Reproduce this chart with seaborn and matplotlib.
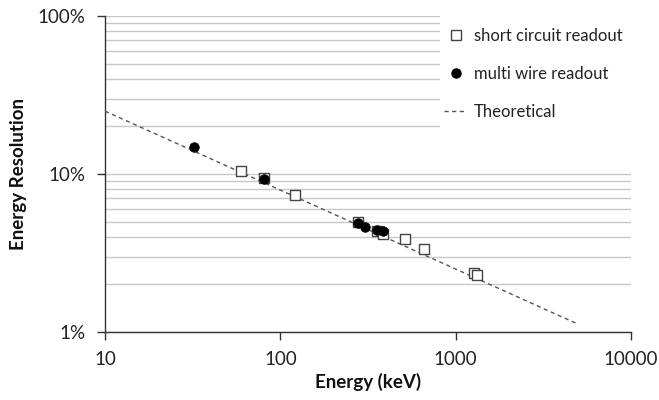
import matplotlib
matplotlib.use("Agg")
import matplotlib.pyplot as plt
import matplotlib.ticker as mticker
import seaborn as sns
import pandas as pd
from matplotlib.lines import Line2D
from matplotlib.patches import Rectangle

# ---- data ----
short_energy = [60, 81, 122, 276, 356, 384, 511, 662, 1280, 1330]
short_res = [10.4, 9.5, 7.4, 5.0, 4.35, 4.15, 3.9, 3.35, 2.36, 2.31]

multi_energy = [32, 81, 276, 303, 356, 384]
multi_res = [14.9, 9.3, 4.9, 4.65, 4.45, 4.35]

theory_energy = [10, 5000]
theory_res = [25.0, 1.12]

x_ticks = [10, 100, 1000, 10000]
y_ticks = [1, 10, 100]

sns.set_theme(style="white")
plt.rcParams["font.family"] = ["Lato", "DejaVu Sans"]

fig = plt.figure(figsize=(6.59, 4.0), dpi=100)
ax = fig.add_axes([105 / 659, 1 - 332 / 400, (631 - 105) / 659, (332 - 16) / 400])

df_short = pd.DataFrame({"E": short_energy, "R": short_res})
df_multi = pd.DataFrame({"E": multi_energy, "R": multi_res})
df_theory = pd.DataFrame({"E": theory_energy, "R": theory_res})

ax.set_xscale("log")
ax.set_yscale("log")

sns.lineplot(data=df_theory, x="E", y="R", ax=ax, color="#555555",
             linestyle=(0, (3, 2.5)), linewidth=1.0, zorder=3)
sns.scatterplot(data=df_short, x="E", y="R", ax=ax, marker="s", s=48,
                facecolor="white", edgecolor="#444444", linewidth=1.0, zorder=4)
sns.scatterplot(data=df_multi, x="E", y="R", ax=ax, marker="o", s=48,
                color="black", edgecolor="black", linewidth=0.5, zorder=5)

ax.set_xlim(10, 10000)
ax.set_ylim(1, 100)

ax.xaxis.set_major_locator(mticker.FixedLocator(x_ticks))
ax.xaxis.set_major_formatter(mticker.FixedFormatter([str(v) for v in x_ticks]))
ax.xaxis.set_minor_locator(mticker.NullLocator())
ax.yaxis.set_major_locator(mticker.FixedLocator(y_ticks))
ax.yaxis.set_major_formatter(mticker.FixedFormatter([f"{v}%" for v in y_ticks]))
ax.yaxis.set_minor_locator(mticker.LogLocator(base=10, subs=range(2, 10)))
ax.yaxis.set_minor_formatter(mticker.NullFormatter())

ax.grid(False)
ax.grid(True, axis="y", which="both", color="#c8c8c8", linewidth=1.0)
ax.set_axisbelow(True)

for s in ["top", "right"]:
    ax.spines[s].set_visible(False)
for s in ["left", "bottom"]:
    ax.spines[s].set_color("#333333")
    ax.spines[s].set_linewidth(1.0)

ax.tick_params(axis="both", which="major", direction="out", length=6, width=1.0,
               color="#333333", labelsize=13.5, labelcolor="#222222", pad=8,
               bottom=True, left=True)
ax.tick_params(axis="y", which="minor", length=0)

ax.set_xlabel("Energy (keV)", fontsize=13.5, fontweight="bold", labelpad=3, color="#111111")
ax.set_ylabel("Energy Resolution", fontsize=13.5, fontweight="bold", labelpad=8, color="#111111")

# white legend area (covers gridlines behind the legend, like the reference)
fig.add_artist(Rectangle((440 / 659, 1 - 140 / 400), 219 / 659, 140 / 400,
                         transform=fig.transFigure, facecolor="white",
                         edgecolor="none", zorder=2))

handles = [
    Line2D([], [], marker="s", linestyle="none", markersize=6.5,
           markerfacecolor="white", markeredgecolor="#444444", markeredgewidth=1.0),
    Line2D([], [], marker="o", linestyle="none", markersize=6.5,
           markerfacecolor="black", markeredgecolor="black"),
    Line2D([], [], color="#555555", linestyle=(0, (3, 2.5)), linewidth=1.0),
]
labels = ["short circuit readout", "multi wire readout", "Theoretical"]
leg = fig.legend(handles, labels, loc="upper left",
                 bbox_to_anchor=(441 / 659, 1 - 25 / 400),
                 frameon=False, fontsize=12, handlelength=1.35, handletextpad=0.4,
                 labelspacing=1.3, borderpad=0.2, borderaxespad=0)
leg.set_zorder(3)
for t in leg.get_texts():
    t.set_color("#222222")

fig.savefig("out.png", dpi=100, facecolor="white")
